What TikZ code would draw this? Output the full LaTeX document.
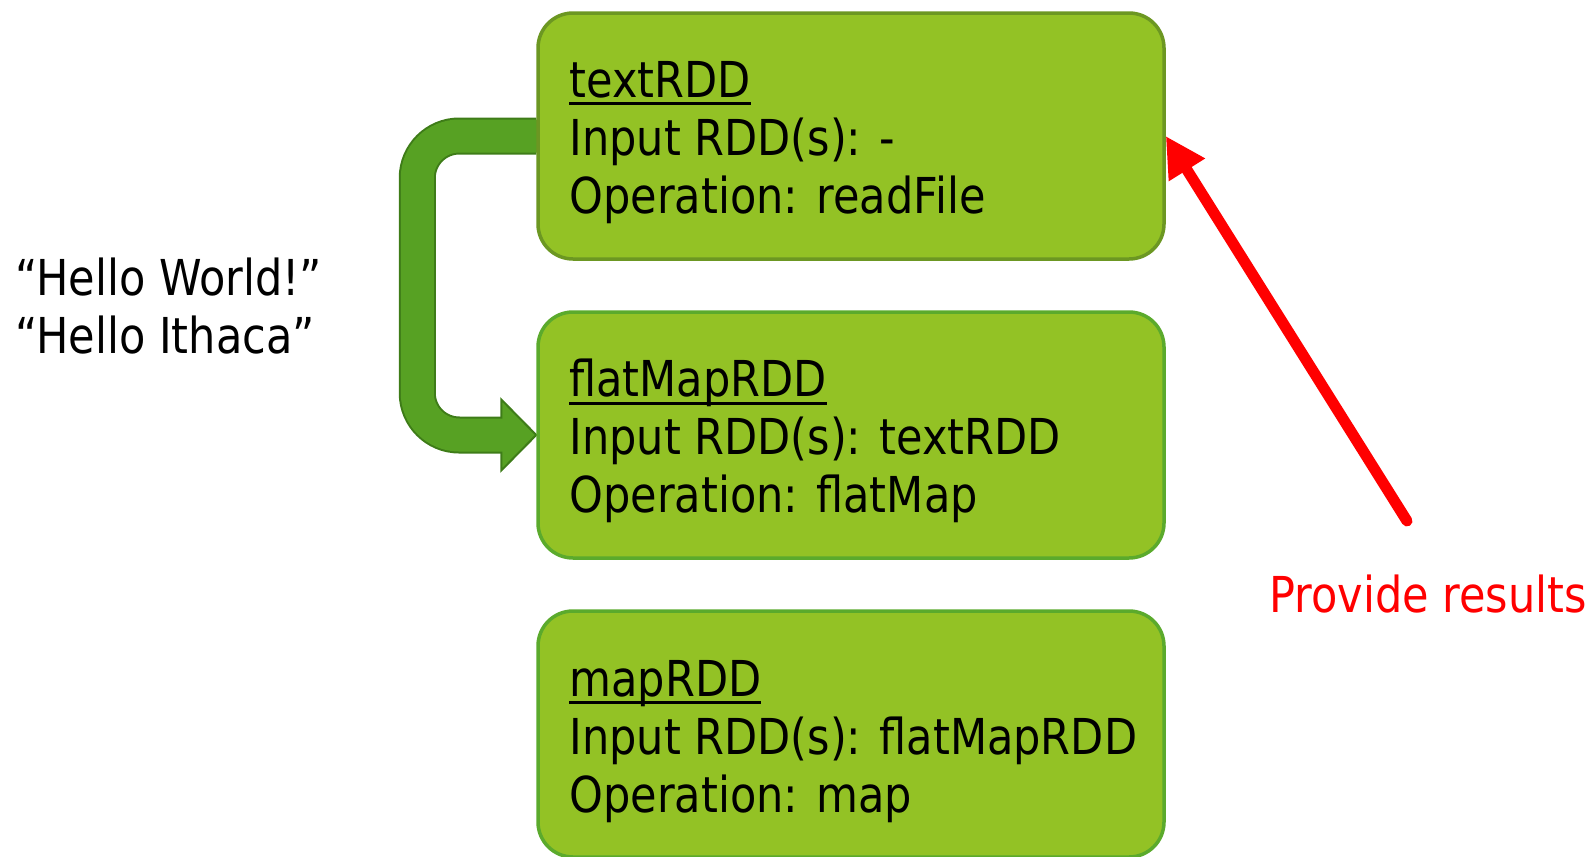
\documentclass[tikz,border=0pt]{standalone}
\usepackage{fontspec}
\setmainfont{DejaVu Sans}[FakeStretch=0.87]
\usetikzlibrary{arrows.meta,backgrounds}

\definecolor{boxfill}{HTML}{93C225}
\definecolor{topedge}{HTML}{6C9722}
\definecolor{boxedge}{HTML}{5BAA2C}
\definecolor{bandfill}{HTML}{57A123}
\definecolor{bandedge}{HTML}{3E7C18}
\definecolor{alertred}{HTML}{FF0000}

% underlined RDD name, rule kept at a fixed depth under the baseline
\newcommand\rddname[1]{\setbox0\hbox{#1}\rlap{\rule[-4pt]{\wd0}{1.5pt}}\box0}

\begin{document}
\begin{tikzpicture}[x=0.5pt,y=-0.5pt,
  font=\fontsize{24.75pt}{29pt}\selectfont,
  rddbox/.style={draw=boxedge, fill=boxfill, line width=1.75pt,
    rounded corners=17.5pt, minimum width=313pt, minimum height=123pt,
    inner sep=0pt},
  txt/.style={anchor=base west, inner sep=0pt},
  bandline/.style={line width=#1, rounded corners=21pt, line cap=butt},
  redarrow/.style={draw=alertred, line width=5.5pt, line cap=round,
    -{Triangle[length=20pt,width=20pt]}}]
\useasboundingbox (0,0) rectangle (1591,857);

% the three RDD boxes
\node[rddbox, draw=topedge] (top) at (851,136) {};
\node[rddbox] (mid) at (851,435) {};
\node[rddbox] (bot) at (851,734) {};

% lineage arrow from textRDD into flatMapRDD
\begin{scope}[on background layer]
  \draw[bandline=18.5pt, draw=bandedge]
    (top.west) -- ++(-119,0) |- ([xshift=-16.5pt]mid.west);
  \filldraw[fill=bandfill, draw=bandedge, line width=1pt, line join=miter]
    ([xshift=-17.5pt,yshift=17.75pt]mid.west) -- (mid.west)
    -- ([xshift=-17.5pt,yshift=-17.75pt]mid.west) -- cycle;
  \draw[bandline=16.5pt, draw=bandfill]
    ([xshift=2pt]top.west) -- ++(-123,0) |- ([xshift=-15.5pt]mid.west);
\end{scope}

% box contents
\node[txt] (t1) at (569,97.4) {\rddname{textRDD}};
\node[txt] (t2) at (569,155.4) {Input RDD(s): -};
\node[txt] (t3) at (569,213.4) {Operation: readFile};

\node[txt] (m1) at (569,396.5) {\rddname{flatMapRDD}};
\node[txt] (m2) at (569,454.5) {Input RDD(s): textRDD};
\node[txt] (m3) at (569,512.5) {Operation: flatMap};

\node[txt] (b1) at (569,696) {\rddname{mapRDD}};
\node[txt] (b2) at (569,754) {Input RDD(s): flatMapRDD};
\node[txt] (b3) at (569,812) {Operation: map};

% input lines
\node[txt] (in1) at (15,295) {“Hello World!”};
\node[txt] (in2) at (15,353) {“Hello Ithaca”};

% results flowing back to textRDD
\coordinate (redtail) at (1407,521);
\draw[redarrow] (redtail) -- (top.east);
\node[txt, text=alertred] (res) at (1269,612) {Provide results};
\end{tikzpicture}
\end{document}
